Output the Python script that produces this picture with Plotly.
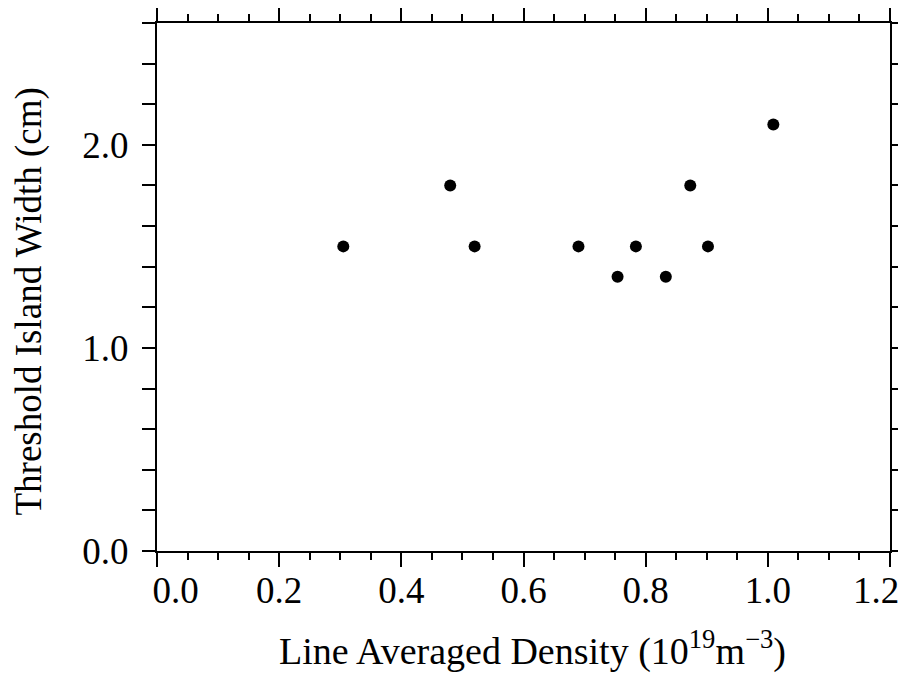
import plotly.graph_objects as go

# line averaged density (1e19 m^-3) and threshold island width (cm)
density = [0.305, 0.48, 0.52, 0.69, 0.754, 0.784, 0.833, 0.873, 0.902, 1.009]
island_width = [1.5, 1.8, 1.5, 1.5, 1.35, 1.5, 1.35, 1.8, 1.5, 2.1]

x_ticks = [0.0, 0.2, 0.4, 0.6, 0.8, 1.0, 1.2]
x_labels = ["\u00a0\u00a0\u00a0\u00a00.0", "0.2", "0.4", "0.6", "0.8", "1.0", "1.2\u00a0\u00a0\u00a0"]
y_ticks = [0.0, 1.0, 2.0]
y_labels = ["0.0", "1.0", "2.0"]

serif = "Liberation Serif, Times New Roman, serif"

fig = go.Figure()
fig.add_trace(go.Scatter(
    x=density, y=island_width, mode="markers",
    marker=dict(color="black", size=12),
    showlegend=False,
))

axis_common = dict(
    showline=True, linecolor="black", linewidth=2,
    mirror="ticks", ticks="outside", tickcolor="black", tickwidth=1.5,
    showgrid=False, zeroline=False, automargin=False,
    ticklabeloverflow="allow",
    tickfont=dict(family=serif, size=37, color="black"),
)

fig.update_xaxes(
    range=[0, 1.2], tickvals=x_ticks, ticktext=x_labels, ticklen=14,
    ticklabelstandoff=-8,
    minor=dict(dtick=0.05, ticks="outside", ticklen=7, tickcolor="black", tickwidth=1.5),
    **axis_common,
)
fig.update_yaxes(
    range=[0, 2.6], tickvals=y_ticks, ticktext=y_labels, ticklen=13,
    ticklabelstandoff=6,
    minor=dict(dtick=0.2, ticks="outside", ticklen=13, tickcolor="black", tickwidth=1.5),
    **axis_common,
)

fig.add_annotation(
    text="Line Averaged Density (10<sup>19</sup>m<sup>−3</sup>)",
    xref="paper", yref="paper", x=0.512, y=-0.184,
    xanchor="center", yanchor="middle", showarrow=False,
    font=dict(family=serif, size=38, color="black"),
)
fig.add_annotation(
    text="Threshold Island Width (cm)",
    xref="paper", yref="paper", x=-0.175, y=0.472, textangle=-90,
    xanchor="center", yanchor="middle", showarrow=False,
    font=dict(family=serif, size=37, color="black"),
)

# the page body adds an 8px offset, so the figure is sized to fit the window
fig.update_layout(
    width=898, height=665,
    margin=dict(l=149, r=16, t=15, b=122),
    plot_bgcolor="white", paper_bgcolor="white",
)

fig.write_html("out.html")
